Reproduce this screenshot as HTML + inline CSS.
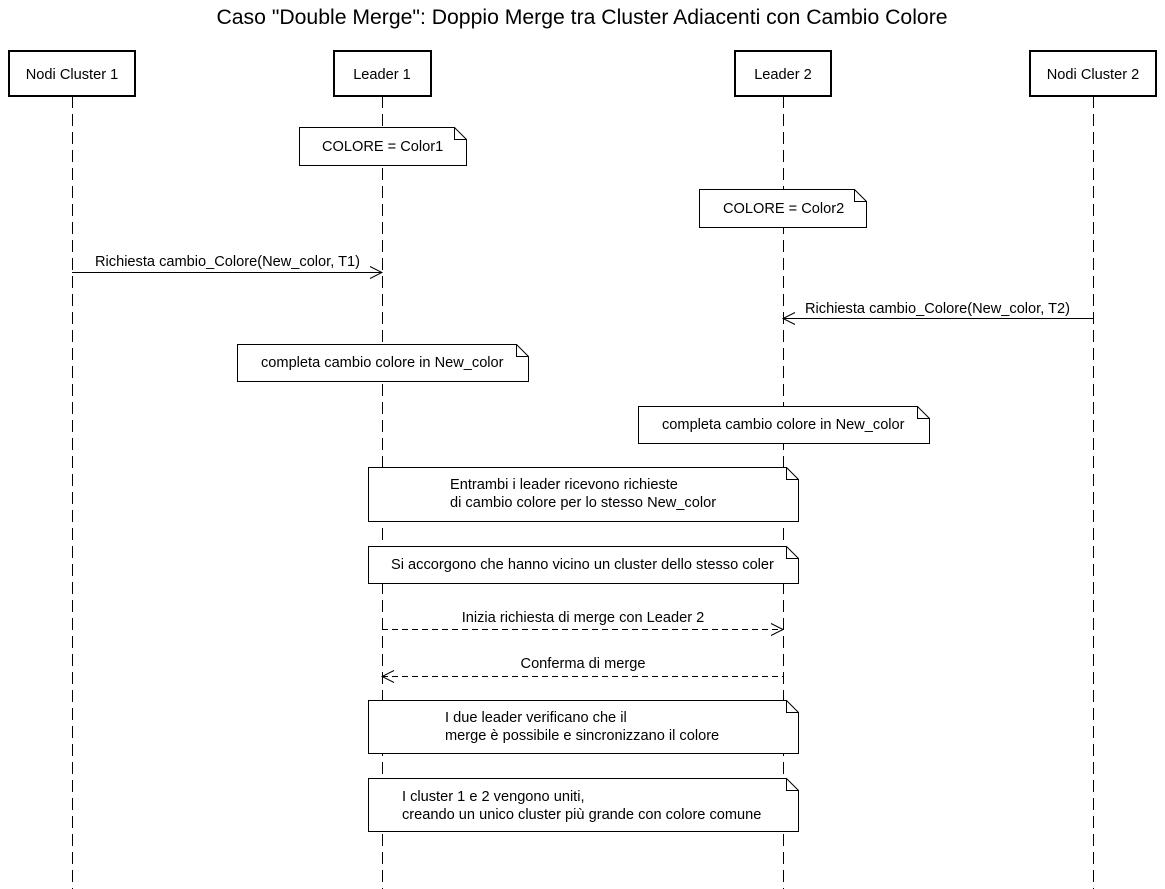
<!DOCTYPE html>
<html><head><meta charset="utf-8"><style>
body{margin:0;background:#fff}
svg{display:block;font-family:"Liberation Sans",Arial,sans-serif}
text{font-size:14.6px;fill:#000}
</style></head><body>
<svg width="1165" height="889" viewBox="0 0 1165 889" xmlns="http://www.w3.org/2000/svg">
<text x="582" y="24" text-anchor="middle" style="font-size:21.2px">Caso "Double Merge": Doppio Merge tra Cluster Adiacenti con Cambio Colore</text>
<g stroke="#000" stroke-width="1" stroke-dasharray="12,6">
<line x1="72.5" y1="96" x2="72.5" y2="889"/>
<line x1="382.5" y1="96" x2="382.5" y2="889"/>
<line x1="783.5" y1="96" x2="783.5" y2="889"/>
<line x1="1093.5" y1="96" x2="1093.5" y2="889"/>
</g>
<g fill="#fff" stroke="#000" stroke-width="2">
<rect x="9" y="51" width="126" height="45"/>
<rect x="334" y="51" width="97" height="45"/>
<rect x="735" y="51" width="96" height="45"/>
<rect x="1030" y="51" width="126" height="45"/>
</g>
<text x="72" y="79" text-anchor="middle">Nodi Cluster 1</text>
<text x="382" y="79" text-anchor="middle">Leader 1</text>
<text x="783" y="79" text-anchor="middle">Leader 2</text>
<text x="1093" y="79" text-anchor="middle">Nodi Cluster 2</text>
<g fill="#fff" stroke="#000" stroke-width="1">
<path d="M299.5 127.5H454.5L466.5 139.5V165.5H299.5Z"/><path d="M454.5 127.5V139.5H466.5" fill="none"/>
<path d="M699.5 189.5H854.5L866.5 201.5V227.5H699.5Z"/><path d="M854.5 189.5V201.5H866.5" fill="none"/>
<path d="M237.5 344.5H516.5L528.5 356.5V381.5H237.5Z"/><path d="M516.5 344.5V356.5H528.5" fill="none"/>
<path d="M638.5 406.5H917.5L929.5 418.5V443.5H638.5Z"/><path d="M917.5 406.5V418.5H929.5" fill="none"/>
<path d="M368.5 467.5H786.5L798.5 479.5V521.5H368.5Z"/><path d="M786.5 467.5V479.5H798.5" fill="none"/>
<path d="M368.5 546.5H786.5L798.5 558.5V583.5H368.5Z"/><path d="M786.5 546.5V558.5H798.5" fill="none"/>
<path d="M368.5 700.5H786.5L798.5 712.5V753.5H368.5Z"/><path d="M786.5 700.5V712.5H798.5" fill="none"/>
<path d="M368.5 778.5H786.5L798.5 790.5V831.5H368.5Z"/><path d="M786.5 778.5V790.5H798.5" fill="none"/>
</g>
<text x="322" y="151">COLORE = Color1</text>
<text x="723" y="213">COLORE = Color2</text>
<text x="261" y="367">completa cambio colore in New_color</text>
<text x="662" y="429">completa cambio colore in New_color</text>
<text x="450" y="489">Entrambi i leader ricevono richieste</text>
<text x="450" y="507">di cambio colore per lo stesso New_color</text>
<text x="391" y="569">Si accorgono che hanno vicino un cluster dello stesso coler</text>
<text x="445" y="722">I due leader verificano che il</text>
<text x="445" y="740">merge è possibile e sincronizzano il colore</text>
<text x="402" y="801">I cluster 1 e 2 vengono uniti,</text>
<text x="402" y="819">creando un unico cluster più grande con colore comune</text>
<g stroke="#000" stroke-width="1" fill="none">
<line x1="72" y1="272.5" x2="382" y2="272.5"/><path d="M370 266.5L382 272.5L370 278.5"/>
<line x1="783" y1="318.5" x2="1093" y2="318.5"/><path d="M795 312.5L783 318.5L795 324.5"/>
<line x1="382" y1="629.5" x2="783" y2="629.5" stroke-dasharray="6,4"/><path d="M771 623.5L783 629.5L771 635.5"/>
<line x1="382" y1="676.5" x2="783" y2="676.5" stroke-dasharray="6,4"/><path d="M394 670.5L382 676.5L394 682.5"/>
</g>
<text x="95" y="266">Richiesta cambio_Colore(New_color, T1)</text>
<text x="805" y="313">Richiesta cambio_Colore(New_color, T2)</text>
<text x="583" y="622" text-anchor="middle">Inizia richiesta di merge con Leader 2</text>
<text x="583" y="668" text-anchor="middle">Conferma di merge</text>
</svg>
</body></html>
